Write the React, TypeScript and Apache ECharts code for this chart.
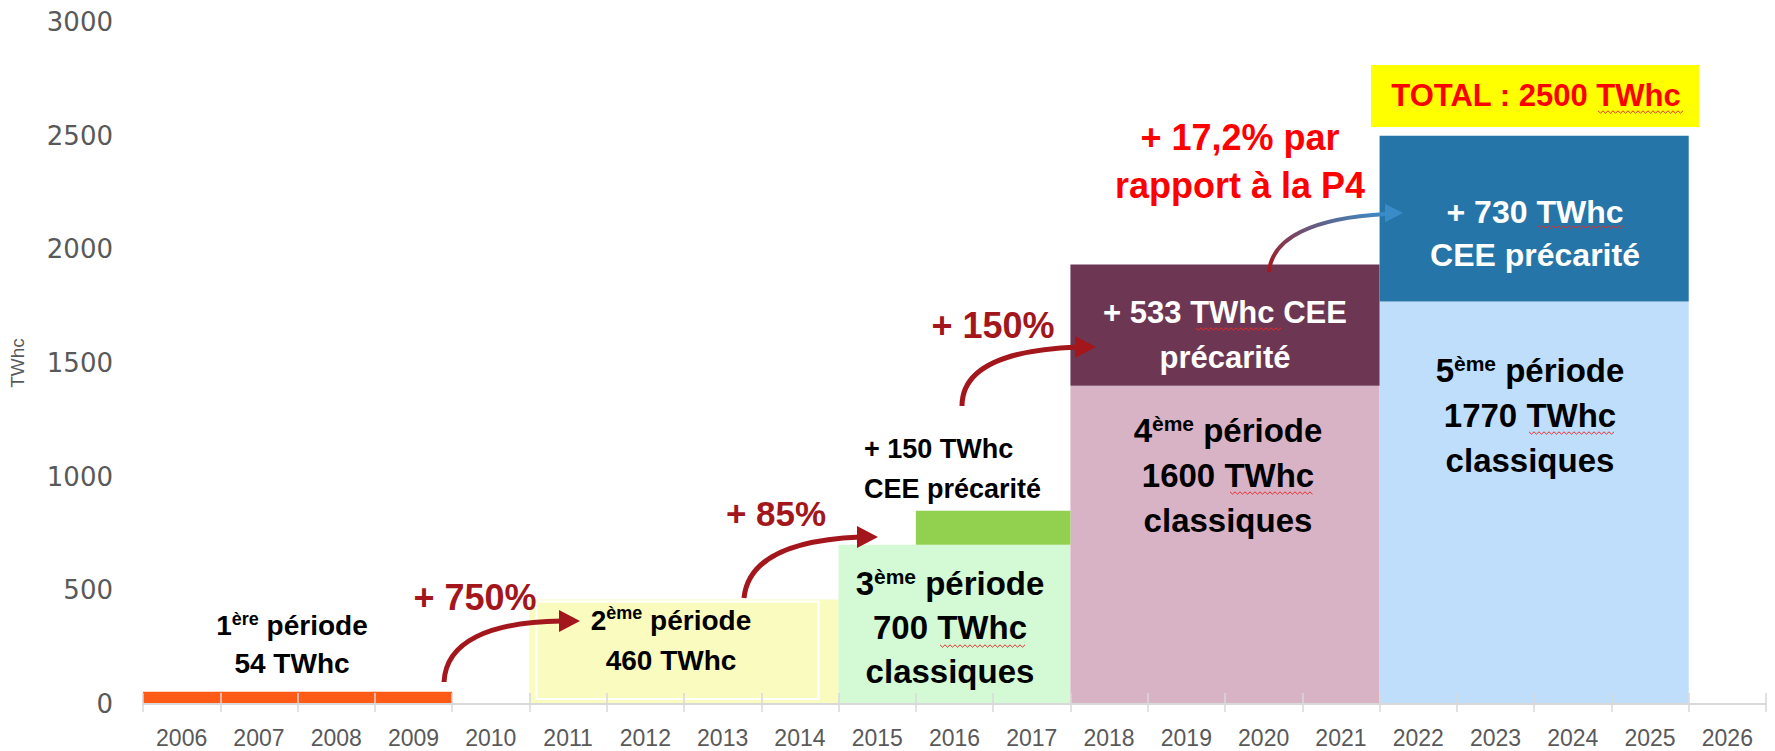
import React, { useEffect, useRef } from 'react';
import * as echarts from 'echarts';

// ---------- data ----------
const years = ['2006', '2007', '2008', '2009', '2010', '2011', '2012', '2013', '2014', '2015', '2016',
  '2017', '2018', '2019', '2020', '2021', '2022', '2023', '2024', '2025', '2026'];
const yMin = 0;
const yMax = 3000;
const yStep = 500;
const yAxisName = 'TWhc';

// "classiques" blocks, one per period
const classicStart = ['2006', '2011', '2015', '2018', '2022'];
const classicEnd = ['2009', '2014', '2017', '2021', '2025'];
const classicValues = [54, 460, 700, 1400, 1770];

// "CEE précarité" blocks stacked on top of a period
const precariteStart = ['2016', '2018', '2022'];
const precariteEnd = ['2017', '2021', '2025'];
const precaritePeriod = [2, 3, 4];
const precariteValues = [150, 533, 730];

// ---------- styles ----------
const CLASSIC_COLORS = ['#FF5B17', '#FAFBBE', '#D3FAD4', '#D8B3C6', '#BEDEFC'];
const PRECARITE_COLORS = ['#92D050', '#6D3754', '#2675A8'];
const OUTLINED = [1];
const DARK_RED = '#A3161C';
const FONT = 'Liberation Sans';

const renderBlock = (outlinedList: number[]) => (params: any, api: any) => {
  const s = api.value(0);
  const e = api.value(1);
  const lo = api.value(2);
  const hi = api.value(3);
  const a = api.coord([s, lo]);
  const b = api.coord([e, hi]);
  const w = api.size([1, 0])[0];
  const x = a[0] - w / 2;
  const y = b[1];
  const width = b[0] - a[0] + w;
  const height = a[1] - b[1];
  const children: any[] = [
    { type: 'rect', shape: { x, y, width, height }, style: { fill: api.visual('color') } },
  ];
  if (outlinedList.indexOf(params.dataIndex) >= 0) {
    children.push({
      type: 'rect',
      shape: { x: x + 7, y: y + 2, width: width - 27, height: height - 7 },
      style: { fill: 'none', stroke: '#ffffff', lineWidth: 2 },
    });
  }
  return { type: 'group', children };
};

const txt = (x: number, y: number, text: string, size: number, color: string, lh: number, align = 'center') => ({
  type: 'text',
  x,
  y,
  z: 50,
  style: {
    text,
    align,
    verticalAlign: 'middle',
    rich: {
      n: { fontFamily: FONT, fontWeight: 'bold', fontSize: size, fill: color, lineHeight: lh },
      s: {
        fontFamily: FONT, fontWeight: 'bold', fontSize: Math.round(size * 0.64), fill: color,
        verticalAlign: 'top', padding: [Math.round(size * 0.16), 0, 0, 0],
      },
    },
  },
});

const periodText = (num: string, sup: string, rest: string[]) =>
  `{n|${num}}{s|${sup}}{n| période}\n` + rest.map((l) => `{n|${l}}`).join('\n');
const lines = (ls: string[]) => ls.map((l) => `{n|${l}}`).join('\n');

const arrow = (p: number[], tip: number[], color: any, headColor: string, lw = 5, head = 21) => [
  {
    type: 'bezierCurve',
    z: 40,
    shape: { x1: p[0], y1: p[1], cpx1: p[2], cpy1: p[3], cpx2: p[4], cpy2: p[5], x2: p[6], y2: p[7] },
    style: { stroke: color, lineWidth: lw, fill: 'none' },
  },
  {
    type: 'polygon',
    z: 41,
    shape: { points: [[tip[0], tip[1]], [tip[0] - head, tip[1] - head * 0.52], [tip[0] - head, tip[1] + head * 0.52]] },
    style: { fill: headColor },
  },
];

// spell-check style wavy underline (decoration)
const wavy = (x1: number, x2: number, y: number) => {
  const pts: number[][] = [];
  let up = true;
  for (let x = x1; x <= x2; x += 2.5) {
    pts.push([x, up ? y - 1.2 : y + 1.2]);
    up = !up;
  }
  return { type: 'polyline', z: 55, shape: { points: pts }, style: { stroke: '#E8302A', lineWidth: 1, fill: 'none' } };
};

export default function App() {
  const ref = useRef<HTMLDivElement>(null);
  useEffect(() => {
    if (!ref.current) return;
    const chart = echarts.init(ref.current, undefined, { renderer: 'svg' });

    const classicData = classicStart.map((s, i) => ({
      value: [years.indexOf(s), years.indexOf(classicEnd[i]), 0, classicValues[i]],
      itemStyle: { color: CLASSIC_COLORS[i] },
    }));
    const precariteData = precariteStart.map((s, i) => {
      const base = classicValues[precaritePeriod[i]];
      return {
        value: [years.indexOf(s), years.indexOf(precariteEnd[i]), base, base + precariteValues[i]],
        itemStyle: { color: PRECARITE_COLORS[i] },
      };
    });

    const gradient = new echarts.graphic.LinearGradient(0, 1, 1, 0, [
      { offset: 0, color: '#A3161C' },
      { offset: 1, color: '#3A8CC8' },
    ]);

    const graphic: any[] = [
      txt(292, 644, periodText('1', 'ère', ['54 TWhc']), 28, '#000', 38),
      txt(671, 640, periodText('2', 'ème', ['460 TWhc']), 28, '#000', 40),
      txt(950, 627, periodText('3', 'ème', ['700 TWhc', 'classiques']), 33, '#000', 44),
      txt(1228, 475, periodText('4', 'ème', ['1600 TWhc', 'classiques']), 33, '#000', 45),
      txt(1530, 415, periodText('5', 'ème', ['1770 TWhc', 'classiques']), 33, '#000', 45),
      txt(864, 469, lines(['+ 150 TWhc', 'CEE précarité']), 27, '#000', 40, 'left'),
      txt(1225, 335, lines(['+ 533 TWhc CEE', 'précarité']), 31, '#fff', 45),
      txt(1535, 233, lines(['+ 730 TWhc', 'CEE précarité']), 32, '#fff', 43),
      txt(1240, 161, lines(['+ 17,2% par', 'rapport à la P4']), 36, '#FF0000', 48),
      txt(475, 597, lines(['+ 750%']), 36, DARK_RED, 40),
      txt(776, 513, lines(['+ 85%']), 35, DARK_RED, 40),
      txt(993, 325, lines(['+ 150%']), 36, DARK_RED, 40),
      {
        type: 'rect', z: 30,
        shape: { x: 1371, y: 65, width: 328, height: 62 },
        style: { fill: '#FFFF00' },
      },
      txt(1536, 95, lines(['TOTAL : 2500 TWhc']), 31, '#FF0000', 40),
      ...arrow([444, 682, 446, 642, 488, 622, 562, 621], [580, 621], DARK_RED, DARK_RED),
      ...arrow([744, 598, 748, 558, 790, 540, 860, 537], [878, 537], DARK_RED, DARK_RED),
      ...arrow([962, 406, 962, 370, 1000, 350, 1078, 347], [1096, 347], DARK_RED, DARK_RED),
      ...arrow([1269, 272, 1272, 238, 1312, 218, 1386, 214], [1403, 213], gradient, '#3A8CC8', 4, 18),
      wavy(940, 1027, 646),
      wavy(1230, 1314, 493),
      wavy(1529, 1616, 433),
      wavy(1196, 1283, 329),
      wavy(1538, 1625, 227),
      wavy(1598, 1683, 112),
    ];

    chart.setOption({
      animation: false,
      grid: { left: 137, right: 9, top: 22, bottom: 47, containLabel: false },
      xAxis: [
        {
          type: 'category',
          data: years,
          boundaryGap: true,
          z: 10,
          axisLine: { show: true, lineStyle: { color: '#D9D9D9', width: 2 } },
          axisTick: { show: true, alignWithLabel: false, length: 8, lineStyle: { color: '#D9D9D9', width: 1.5 } },
          axisLabel: { show: true, color: '#595959', fontFamily: FONT, fontSize: 23, margin: 22, interval: 0 },
          splitLine: { show: false },
        },
        {
          type: 'category',
          data: years,
          boundaryGap: true,
          position: 'bottom',
          offset: 0,
          z: 10,
          axisLine: { show: false },
          axisTick: { show: true, inside: true, alignWithLabel: false, length: 11, lineStyle: { color: '#D9D9D9', width: 1.5 } },
          axisLabel: { show: false },
          splitLine: { show: false },
        },
      ],
      yAxis: {
        type: 'value',
        min: yMin,
        max: yMax,
        interval: yStep,
        name: yAxisName,
        nameLocation: 'middle',
        nameRotate: 90,
        nameGap: 116,
        nameTextStyle: { color: '#595959', fontFamily: FONT, fontSize: 19 },
        axisLine: { show: false },
        axisTick: { show: false },
        splitLine: { show: false },
        axisLabel: {
          color: '#595959', fontFamily: 'DejaVu Sans', fontSize: 26, margin: 30,
          formatter: (v: number) => String(v),
        },
      },
      series: [
        {
          type: 'custom',
          name: 'classiques',
          xAxisIndex: 0,
          renderItem: renderBlock(OUTLINED),
          encode: { x: [0, 1], y: [2, 3] },
          clip: false,
          data: classicData,
        },
        {
          type: 'custom',
          name: 'précarité',
          xAxisIndex: 0,
          renderItem: renderBlock([]),
          encode: { x: [0, 1], y: [2, 3] },
          clip: false,
          data: precariteData,
        },
      ],
      graphic,
    });

    return () => chart.dispose();
  }, []);

  return (
    <div
      ref={ref}
      style={{ position: 'fixed', left: 0, top: 0, width: 1775, height: 751, background: '#ffffff' }}
    />
  );
}
